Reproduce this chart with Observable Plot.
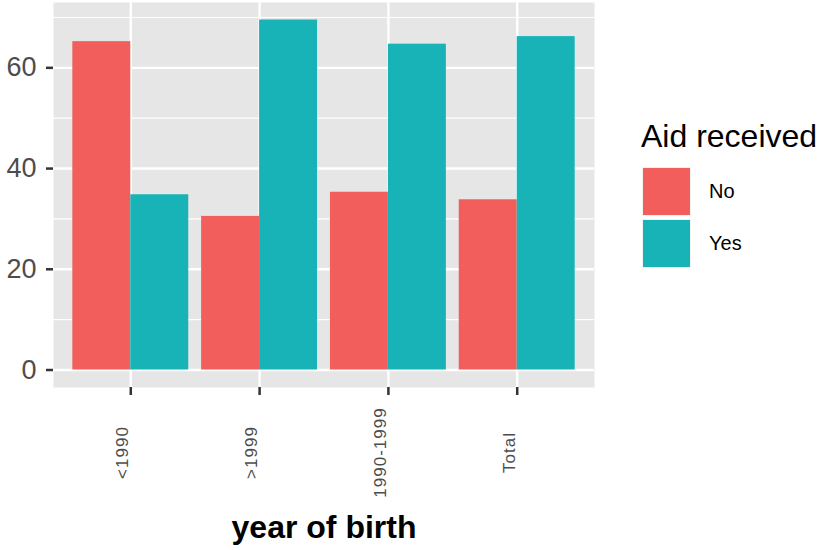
<!DOCTYPE html>
<html>
<head>
<meta charset="utf-8">
<script src="https://cdn.jsdelivr.net/npm/d3@7"></script>
<script src="https://cdn.jsdelivr.net/npm/@observablehq/plot@0.6"></script>
<style>
  body { margin: 0; background: #ffffff; font-family: "Liberation Sans", Arial, sans-serif; }
  #wrap { position: relative; width: 826px; height: 550px; }
  #legend { position: absolute; left: 641px; top: 118px; }
  #legend .title { font-size: 32px; color: #000; line-height: 36px; margin-bottom: 11px; }
  #legend .row { display: flex; align-items: center; height: 52px; }
  #legend .key { width: 49px; height: 49px; box-sizing: border-box; border: 1px solid #f2f2f2; margin-left: 1px; }
  #legend .lab { font-size: 20px; color: #000; margin-left: 18px; }
</style>
</head>
<body>
<div id="wrap"></div>
<script>
const categories = ["<1990", ">1999", "1990-1999", "Total"];
const groups = ["No", "Yes"];
const noValues = [65.2, 30.5, 35.3, 33.8];
const yesValues = [34.8, 69.5, 64.7, 66.2];
const yMajorTicks = [0, 20, 40, 60];
const yMinorTicks = [10, 30, 50, 70];
const colors = ["#F25E5B", "#18B3B7"];

// dodge position like ggplot: category index k, each bar 0.45 wide
const table = [];
categories.forEach((c, i) => {
  table.push({cat: c, k: i + 1, aid: "No", value: noValues[i]});
  table.push({cat: c, k: i + 1, aid: "Yes", value: yesValues[i]});
});
const barW = 0.45;
const x1 = d => d.k - barW + (d.aid === "Yes" ? barW : 0);
const x2 = d => x1(d) + barW;

const font = "Liberation Sans, Arial, sans-serif";
const yMax = d3.max(yesValues.concat(noValues));

const chart = Plot.plot({
  width: 826,
  height: 550,
  marginLeft: 53,
  marginRight: 232,
  marginTop: 2,
  marginBottom: 163,
  style: {fontFamily: font, background: "white"},
  x: {domain: [0.4, categories.length + 0.6]},
  y: {domain: [-0.05 * yMax, 1.05 * yMax]},
  color: {domain: groups, range: colors},
  marks: [
    Plot.frame({fill: "#E6E6E6", stroke: null}),
    Plot.ruleY(yMinorTicks, {stroke: "white", strokeWidth: 1.2}),
    Plot.ruleY(yMajorTicks, {stroke: "white", strokeWidth: 2.4}),
    Plot.ruleX(categories.map((c, i) => i + 1), {stroke: "white", strokeWidth: 2.4}),
    Plot.rect(table, {x1, x2, y1: 0, y2: "value", fill: "aid"}),
    Plot.axisY({ticks: yMajorTicks, tickSize: 7, tickPadding: 10, stroke: "#333333", strokeWidth: 2.5,
      color: "#4d4d4d", fontSize: 27, label: null}),
    Plot.axisX({ticks: categories.map((c, i) => i + 1), tickSize: 8, stroke: "#333333", strokeWidth: 2.5,
      tickFormat: () => "", label: null}),
    Plot.text(categories, {x: (d, i) => i + 1, text: d => d, frameAnchor: "bottom", dy: 65, dx: -8,
      rotate: -90, textAnchor: "middle", lineAnchor: "middle", fontSize: 17, fill: "#4d4d4d"}),
    Plot.text(["year of birth"], {frameAnchor: "bottom", dy: 150, lineAnchor: "bottom", textAnchor: "middle",
      fontSize: 32, fontWeight: "bold", fill: "#000"})
  ]
});
chart.querySelectorAll("text").forEach(t => { if (categories.includes(t.textContent)) t.style.letterSpacing = "1px"; });
const wrap = document.getElementById("wrap");
wrap.appendChild(chart);

const legend = document.createElement("div");
legend.id = "legend";
legend.innerHTML = `<div class="title">Aid received</div>` +
  groups.map((g, i) => `<div class="row"><div class="key" style="background:${colors[i]}"></div><div class="lab">${g}</div></div>`).join("");
wrap.appendChild(legend);
</script>
</body>
</html>
